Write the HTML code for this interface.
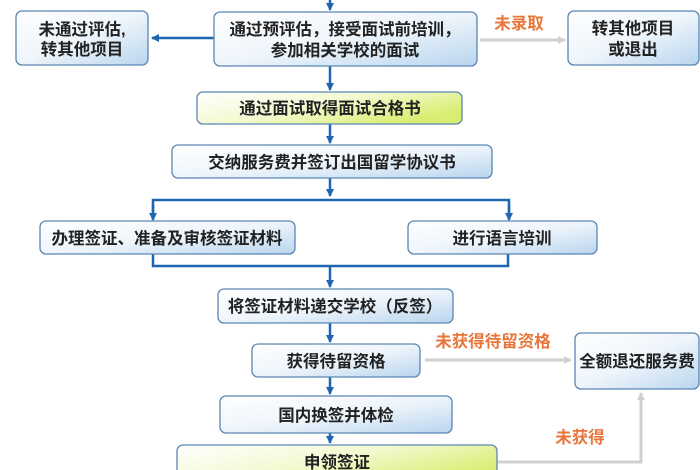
<!DOCTYPE html>
<html><head><meta charset="utf-8"><style>
html,body{margin:0;padding:0;background:#fff;}
svg{display:block;}
text{font-family:"Liberation Sans","Noto Sans CJK SC",sans-serif;font-size:16.5px;font-weight:bold;fill:#222;text-anchor:middle;}
.o{fill:#e8763a;font-weight:bold;}
</style></head><body>
<svg width="700" height="470" viewBox="0 0 700 470" xmlns="http://www.w3.org/2000/svg">
<defs>
<linearGradient id="b" x1="0" y1="0" x2="1" y2="1"><stop offset="0" stop-color="#ffffff"/><stop offset="0.5" stop-color="#eef5fb"/><stop offset="1" stop-color="#b9d5ee"/></linearGradient>
<linearGradient id="y" x1="0" y1="0" x2="1" y2="0.6"><stop offset="0" stop-color="#ffffff"/><stop offset="0.5" stop-color="#f4f9d2"/><stop offset="1" stop-color="#d8ee70"/></linearGradient>
<marker id="a" markerWidth="8" markerHeight="8" refX="7" refY="4" orient="auto" markerUnits="userSpaceOnUse"><path d="M0,0 L8,4 L0,8 Z" fill="#1f66b0"/></marker>
<marker id="g" markerWidth="8" markerHeight="8" refX="7" refY="4" orient="auto" markerUnits="userSpaceOnUse"><path d="M0,0 L8,4 L0,8 Z" fill="#d0d0d0"/></marker>
</defs>
<g stroke="#1f66b0" stroke-width="2.5" fill="none">
<line x1="330" y1="0" x2="330" y2="10" marker-end="url(#a)"/>
<line x1="214" y1="38" x2="152" y2="38" marker-end="url(#a)"/>
<line x1="330" y1="66" x2="330" y2="90" marker-end="url(#a)"/>
<line x1="330" y1="124" x2="330" y2="143" marker-end="url(#a)"/>
<line x1="330" y1="178" x2="330" y2="196" marker-end="url(#a)"/>
<polyline points="153,219 153,200 509,200 509,219" />
<line x1="153" y1="205" x2="153" y2="220" marker-end="url(#a)"/>
<line x1="509" y1="205" x2="509" y2="220" marker-end="url(#a)"/>
<polyline points="153,254 153,266 508,266 508,254"/>
<line x1="330" y1="266" x2="330" y2="287" marker-end="url(#a)"/>
<line x1="330" y1="323" x2="330" y2="342" marker-end="url(#a)"/>
<line x1="330" y1="377" x2="330" y2="394" marker-end="url(#a)"/>
<line x1="330" y1="433" x2="330" y2="443" marker-end="url(#a)"/>
</g>
<g stroke="#d0d0d0" stroke-width="3" fill="none">
<line x1="480" y1="40" x2="565" y2="40" marker-end="url(#g)"/>
<line x1="425" y1="360" x2="571" y2="360" marker-end="url(#g)"/>
<polyline points="498,462 641,462 641,393" marker-end="url(#g)"/>
</g>
<g stroke="#5a86b3" stroke-width="1.3">
<rect x="16" y="11" width="132" height="54" rx="6" fill="url(#b)"/>
<rect x="214" y="12" width="263" height="54" rx="6" fill="url(#b)"/>
<rect x="568" y="11" width="131" height="54" rx="6" fill="url(#b)"/>
<rect x="197" y="92" width="265" height="32" rx="6" fill="url(#y)"/>
<rect x="172" y="145" width="320" height="33" rx="6" fill="url(#b)"/>
<rect x="40" y="221" width="255" height="33" rx="6" fill="url(#b)"/>
<rect x="408" y="221" width="189" height="33" rx="6" fill="url(#b)"/>
<rect x="218" y="289" width="235" height="34" rx="6" fill="url(#b)"/>
<rect x="252" y="344" width="168" height="33" rx="6" fill="url(#b)"/>
<rect x="220" y="396" width="232" height="37" rx="6" fill="url(#b)"/>
<rect x="177" y="445" width="320" height="40" rx="6" fill="url(#y)"/>
<rect x="575" y="333" width="124" height="56" rx="6" fill="url(#b)"/>
</g>
<text x="82" y="35">未通过评估,</text>
<text x="82" y="55">转其他项目</text>
<text x="345" y="35">通过预评估，接受面试前培训，</text>
<text x="345" y="56">参加相关学校的面试</text>
<text x="633" y="34">转其他项目</text>
<text x="633" y="55">或退出</text>
<text x="330" y="114">通过面试取得面试合格书</text>
<text x="332" y="168">交纳服务费并签订出国留学协议书</text>
<text x="167" y="244">办理签证、准备及审核签证材料</text>
<text x="502" y="244">进行语言培训</text>
<text x="335" y="312">将签证材料递交学校（反签）</text>
<text x="336" y="367">获得待留资格</text>
<text x="336" y="421">国内换签并体检</text>
<text x="337" y="468">申领签证</text>
<text x="637" y="367">全额退还服务费</text>
<text class="o" x="519" y="29">未录取</text>
<text class="o" x="493" y="347">未获得待留资格</text>
<text class="o" x="580" y="443">未获得</text>
</svg>
</body></html>
